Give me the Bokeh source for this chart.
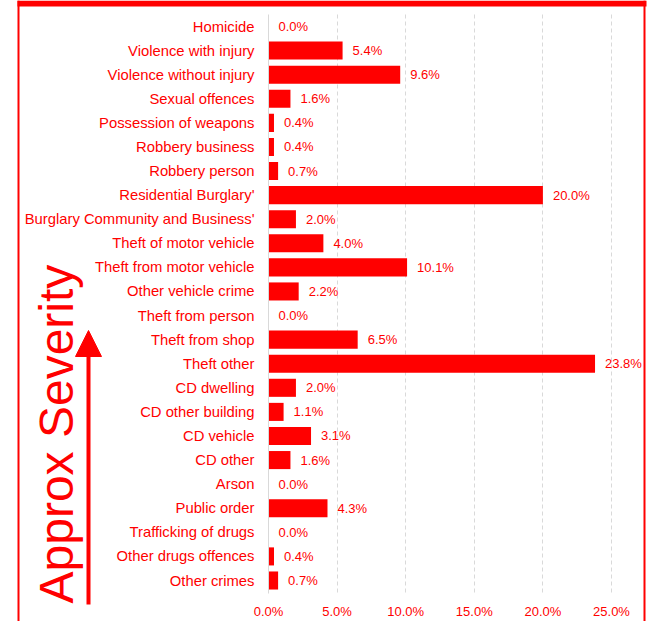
import math
from bokeh.plotting import figure
from bokeh.models import (Range1d, FixedTicker, PrintfTickFormatter, Label, Arrow, NormalHead,
                          LinearAxis, Grid)
from bokeh.core.properties import value
from bokeh.embed import file_html
from bokeh.resources import INLINE

categories = [
    "Homicide", "Violence with injury", "Violence without injury", "Sexual offences",
    "Possession of weapons", "Robbery business", "Robbery person", "Residential Burglary'",
    "Burglary Community and Business'", "Theft of motor vehicle", "Theft from motor vehicle",
    "Other vehicle crime", "Theft from person", "Theft from shop", "Theft other",
    "CD dwelling", "CD other building", "CD vehicle", "CD other", "Arson",
    "Public order", "Trafficking of drugs", "Other drugs offences", "Other crimes",
]
shares = [0.0, 5.4, 9.6, 1.6, 0.4, 0.4, 0.7, 20.0, 2.0, 4.0, 10.1, 2.2, 0.0, 6.5, 23.8,
          2.0, 1.1, 3.1, 1.6, 0.0, 4.3, 0.0, 0.4, 0.7]
share_labels = [f"{v:.1f}%" for v in shares]
x_ticks = [0, 5, 10, 15, 20, 25]
side_title = "Approx Severity"

positions = list(range(len(categories)))

RED = "#ff0000"
W, H = 650, 621
PX_PER_PCT = 13.72
ZERO_PX = 268
ROW_PX = 24.087
FIRST_ROW_PX = 26

x_start = -ZERO_PX / PX_PER_PCT
x_end = (W - ZERO_PX) / PX_PER_PCT
y_top = -FIRST_ROW_PX / ROW_PX
y_bottom = y_top + H / ROW_PX
y_frame_bottom = (593 - FIRST_ROW_PX) / ROW_PX
y_frame_top = (14 - FIRST_ROW_PX) / ROW_PX

p = figure(width=W, height=H, output_backend="svg", toolbar_location=None,
           x_range=Range1d(x_start, x_end), y_range=Range1d(y_bottom, y_top),
           x_axis_location=None, y_axis_location=None, min_border=0)
p.outline_line_color = None
p.background_fill_color = "white"
p.border_fill_color = "white"
# drop the default grids
p.center = [r for r in p.center if not isinstance(r, Grid)]

xaxis = LinearAxis(ticker=FixedTicker(ticks=x_ticks),
                   formatter=PrintfTickFormatter(format="%.1f%%"),
                   fixed_location=y_frame_bottom)
xaxis.axis_line_color = None
xaxis.major_tick_line_color = None
xaxis.minor_tick_line_color = None
xaxis.major_tick_out = 0
xaxis.major_tick_in = 0
xaxis.minor_tick_out = 0
xaxis.major_label_standoff = 10
xaxis.major_label_text_color = RED
xaxis.major_label_text_font = "Liberation Sans"
xaxis.major_label_text_font_size = "13px"
p.add_layout(xaxis, "below")

yaxis = LinearAxis(ticker=FixedTicker(ticks=positions),
                   major_label_overrides={i: c for i, c in zip(positions, categories)},
                   fixed_location=0, bounds=(y_frame_top, y_frame_bottom))
yaxis.axis_line_color = "#d9d9d9"
yaxis.major_tick_line_color = None
yaxis.minor_tick_line_color = None
yaxis.major_tick_out = 0
yaxis.major_tick_in = 0
yaxis.minor_tick_out = 0
yaxis.major_label_standoff = 14
yaxis.major_label_text_color = RED
yaxis.major_label_text_font = "Liberation Sans"
yaxis.major_label_text_font_size = "14.8px"
p.add_layout(yaxis, "left")

xgrid = Grid(dimension=0, ticker=FixedTicker(ticks=x_ticks[1:]), grid_line_color="#d9d9d9",
             grid_line_dash="4 3")
if "cross_bounds" in xgrid.properties():
    xgrid.cross_bounds = (y_frame_top, y_frame_bottom)
p.add_layout(xgrid)

p.hbar(y=positions, right=shares, left=0, height=0.75, fill_color=RED, line_color=None)
p.text(x=shares, y=positions, text=share_labels, x_offset=10, text_align="left",
       text_baseline="middle", text_color=RED, text_font=value("Liberation Sans"),
       text_font_size="13px")

# frame border drawn as headless arrows in canvas coordinates (y from top)
p.add_layout(Arrow(x_start=17, y_start=3, x_end=646, y_end=3, start_units="canvas",
                   end_units="canvas", line_color=RED, line_width=6, end=None))
p.add_layout(Arrow(x_start=18, y_start=0, x_end=18, y_end=H, start_units="canvas",
                   end_units="canvas", line_color=RED, line_width=2, end=None))
p.add_layout(Arrow(x_start=644, y_start=0, x_end=644, y_end=H, start_units="canvas",
                   end_units="canvas", line_color=RED, line_width=2, end=None))

p.add_layout(Arrow(x_start=88, y_start=604, x_end=88, y_end=330,
                   start_units="canvas", end_units="canvas", line_color=RED, line_width=4,
                   end=NormalHead(size=26, fill_color=RED, line_color=RED)))
p.add_layout(Label(x=56, y=603, x_units="canvas", y_units="canvas", text=side_title,
                   angle=math.pi / 2, text_align="left", text_baseline="alphabetic",
                   text_color=RED, text_font="Liberation Sans", text_font_size="48px"))

open("out.html", "w").write(file_html(p, INLINE))
